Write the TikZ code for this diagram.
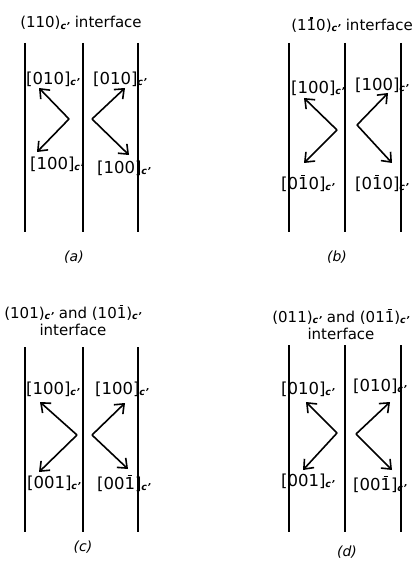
\documentclass[tikz,border=0pt]{standalone}
\usepackage{fontspec}
\setmainfont{DejaVu Sans}
\usetikzlibrary{arrows.meta}
\newsavebox\obbox
\newcommand\cs{\raisebox{-1.3pt}{\fontsize{9.5}{9.5}\selectfont\bfseries\itshape c\kern0.2pt’}}
\newcommand\ob[1]{\sbox\obbox{#1}\rlap{\hbox to\wd\obbox{\hss\raisebox{1.1\ht\obbox}{\rule{0.4\wd\obbox}{1.2pt}}\hss}}\usebox\obbox}
\tikzset{
  lab/.style={font=\fontsize{16.5}{16.5}\selectfont, inner sep=0pt},
  tit/.style={font=\fontsize{15}{17}\selectfont, inner sep=0pt, align=center},
  figcap/.style={font=\fontsize{14}{14}\selectfont\itshape, inner sep=0pt},
  wall/.style={line width=1.3pt},
  arr/.style={line width=1.6pt, -{Straight Barb[length=8pt,width=13pt]}}
}
\begin{document}
\begin{tikzpicture}[x=1pt,y=-1pt]
\useasboundingbox (0,0) rectangle (419,561);
% ---------- (a)
\node[tit] (ta) at (81,23) {(110)\cs\ interface};
\draw[wall] (25,43) -- (25,232);
\draw[wall] (83,43) -- (83,232);
\draw[wall] (138,43) -- (138,232);
\node[lab] (a1) at (53,79) {[010]\cs};
\node[lab] (a2) at (120,79) {[010]\cs};
\node[lab] (a3) at (57,164) {[100]\cs};
\node[lab] (a4) at (124,168) {[100]\cs};
\coordinate (avl) at (69,119);
\coordinate (avr) at (92,119);
\coordinate (a1t) at (39,88);
\coordinate (a3t) at (37,152);
\coordinate (a2t) at (125,88);
\coordinate (a4t) at (129,155);
\draw[arr] (avl) -- (a1t);
\draw[arr] (avl) -- (a3t);
\draw[arr] (avr) -- (a2t);
\draw[arr] (avr) -- (a4t);
\node[figcap] (ca) at (74,257) {(a)};
% ---------- (b)
\node[tit] (tb) at (352,25) {(1\ob{1}0)\cs\ interface};
\draw[wall] (289,43) -- (289,232);
\draw[wall] (345,43) -- (345,232);
\draw[wall] (401,43) -- (401,232);
\node[lab] (b1) at (318,88) {[100]\cs};
\node[lab] (b2) at (382,85) {[100]\cs};
\node[lab] (b3) at (308,183) {[0\ob{1}0]\cs};
\node[lab] (b4) at (382,183) {[0\ob{1}0]\cs};
\coordinate (bvl) at (337,130);
\coordinate (bvr) at (357,125);
\coordinate (b1t) at (304,98);
\coordinate (b3t) at (304,163);
\coordinate (b2t) at (388,93);
\coordinate (b4t) at (392,163);
\draw[arr] (bvl) -- (b1t);
\draw[arr] (bvl) -- (b3t);
\draw[arr] (bvr) -- (b2t);
\draw[arr] (bvr) -- (b4t);
\node[figcap] (cb) at (337,257) {(b)};
% ---------- (c)
\node[tit] (tc) at (73,320) {(101)\cs\ and (10\ob{1})\cs\\interface};
\draw[wall] (25,347) -- (25,532);
\draw[wall] (83,347) -- (83,532);
\draw[wall] (138,347) -- (138,532);
\node[lab] (c1) at (53,389) {[100]\cs};
\node[lab] (c2) at (122,389) {[100]\cs};
\node[lab] (c3) at (54,483) {[001]\cs};
\node[lab] (c4) at (124,483) {[00\ob{1}]\cs};
\coordinate (cvl) at (77,435);
\coordinate (cvr) at (92,435);
\coordinate (c1t) at (40,402);
\coordinate (c3t) at (39,472);
\coordinate (c2t) at (125,403);
\coordinate (c4t) at (128,469);
\draw[arr] (cvl) -- (c1t);
\draw[arr] (cvl) -- (c3t);
\draw[arr] (cvr) -- (c2t);
\draw[arr] (cvr) -- (c4t);
\node[figcap] (cc) at (83,547) {(c)};
% ---------- (d)
\node[tit] (td) at (341,324) {(011)\cs\ and (01\ob{1})\cs\\interface};
\draw[wall] (289,345) -- (289,532);
\draw[wall] (345,345) -- (345,532);
\draw[wall] (401,345) -- (401,532);
\node[lab] (d1) at (308,389) {[010]\cs};
\node[lab] (d2) at (380,386) {[010]\cs};
\node[lab] (d3) at (308,481) {[001]\cs};
\node[lab] (d4) at (380,484) {[00\ob{1}]\cs};
\coordinate (dvl) at (337,433);
\coordinate (dvr) at (356,434);
\coordinate (d1t) at (306,402);
\coordinate (d3t) at (303,470);
\coordinate (d2t) at (390,402);
\coordinate (d4t) at (392,470);
\draw[arr] (dvl) -- (d1t);
\draw[arr] (dvl) -- (d3t);
\draw[arr] (dvr) -- (d2t);
\draw[arr] (dvr) -- (d4t);
\node[figcap] (cd) at (347,552) {(d)};
\end{tikzpicture}
\end{document}
